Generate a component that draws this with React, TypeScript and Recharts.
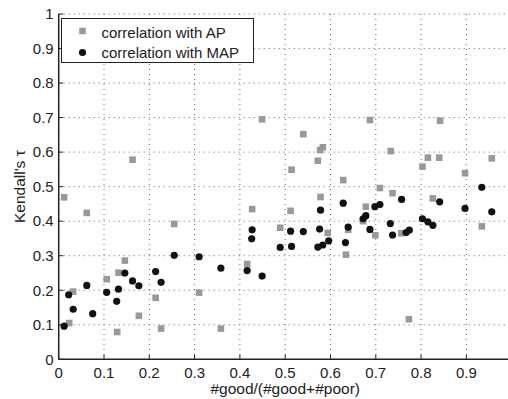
import { ScatterChart, Scatter, XAxis, YAxis, CartesianGrid } from "recharts";

// values
const AP_X = [
  0.012, 0.023, 0.032, 0.062, 0.106, 0.129, 0.132, 0.146, 0.163, 0.177, 0.214, 0.226,
  0.255, 0.31, 0.358, 0.416, 0.427, 0.449, 0.489, 0.512, 0.514, 0.54, 0.572, 0.577,
  0.578, 0.583, 0.594, 0.628, 0.634, 0.639, 0.672, 0.678, 0.687, 0.699, 0.709, 0.733,
  0.737, 0.756, 0.773, 0.803, 0.815, 0.826, 0.84, 0.842, 0.897, 0.934, 0.956,
];
const AP_Y = [
  0.469, 0.105, 0.196, 0.424, 0.232, 0.079, 0.251, 0.286, 0.578, 0.126, 0.178, 0.089,
  0.392, 0.193, 0.089, 0.276, 0.435, 0.695, 0.381, 0.43, 0.549, 0.652, 0.575, 0.606,
  0.47, 0.614, 0.366, 0.519, 0.303, 0.375, 0.4, 0.442, 0.693, 0.359, 0.496, 0.603,
  0.481, 0.365, 0.116, 0.558, 0.584, 0.466, 0.584, 0.691, 0.539, 0.385, 0.582,
];
const MAP_X = [
  0.012, 0.022, 0.032, 0.062, 0.075, 0.106, 0.128, 0.132, 0.146, 0.163, 0.177, 0.214,
  0.226, 0.255, 0.31, 0.358, 0.416, 0.426, 0.427, 0.449, 0.489, 0.512, 0.514, 0.54,
  0.572, 0.576, 0.578, 0.583, 0.596, 0.628, 0.633, 0.639, 0.672, 0.678, 0.687, 0.698,
  0.709, 0.732, 0.737, 0.757, 0.767, 0.774, 0.803, 0.815, 0.826, 0.841, 0.897, 0.934, 0.956,
];
const MAP_Y = [
  0.096, 0.187, 0.145, 0.214, 0.132, 0.194, 0.168, 0.203, 0.25, 0.227, 0.213, 0.254,
  0.223, 0.301, 0.297, 0.264, 0.257, 0.349, 0.375, 0.241, 0.324, 0.371, 0.327, 0.37,
  0.325, 0.377, 0.432, 0.331, 0.343, 0.452, 0.338, 0.383, 0.407, 0.416, 0.376, 0.442,
  0.448, 0.393, 0.36, 0.463, 0.367, 0.374, 0.407, 0.398, 0.388, 0.456, 0.437, 0.498, 0.427,
];
const X_TICKS = [0, 0.1, 0.2, 0.3, 0.4, 0.5, 0.6, 0.7, 0.8, 0.9];
const Y_TICKS = [0, 0.1, 0.2, 0.3, 0.4, 0.5, 0.6, 0.7, 0.8, 0.9, 1];
const SERIES_NAMES = ["correlation with AP", "correlation with MAP"];
const X_TITLE = "#good/(#good+#poor)";
const Y_TITLE = "Kendall's \u03c4";

const apData = AP_X.map((x, i) => ({ x, y: AP_Y[i] }));
const mapData = MAP_X.map((x, i) => ({ x, y: MAP_Y[i] }));

const FONT = '"Liberation Sans", Arial, Helvetica, sans-serif';
const TXT = "#222";
const GRAY = "#999";
const DARK = "#111";

const fmt = (v: number) => String(Math.round(v * 10) / 10);

function BottomTick(props: any) {
  const { x, y, payload } = props;
  return (
    <g>
      <line x1={x} x2={x} y1={y} y2={y - 4.5} stroke={TXT} strokeWidth={1} />
      <text x={x} y={y + 19} textAnchor="middle" fontSize={15} fill={TXT} fontFamily={FONT}>
        {fmt(payload.value)}
      </text>
    </g>
  );
}

function TopTick(props: any) {
  const { x, y } = props;
  return <line x1={x} x2={x} y1={y} y2={y + 4.5} stroke={TXT} strokeWidth={1} />;
}

function LeftTick(props: any) {
  const { x, y, payload } = props;
  return (
    <g>
      <line x1={x} x2={x + 4.5} y1={y} y2={y} stroke={TXT} strokeWidth={1} />
      <text x={x - 5} y={y + 5.3} textAnchor="end" fontSize={15} fill={TXT} fontFamily={FONT}>
        {fmt(payload.value)}
      </text>
    </g>
  );
}

function XTitle(props: any) {
  const vb = props.viewBox;
  return (
    <text x={vb.x + vb.width / 2} y={vb.y + 35} textAnchor="middle" fontSize={15.5} fill={TXT} fontFamily={FONT}>
      {X_TITLE}
    </text>
  );
}

function YTitle(props: any) {
  const vb = props.viewBox;
  const cy = vb.y + vb.height / 2;
  return (
    <text
      transform={`translate(${vb.x + 24.5},${cy}) rotate(-90)`}
      textAnchor="middle"
      fontSize={15.5}
      fill={TXT}
      fontFamily={FONT}
    >
      {Y_TITLE}
    </text>
  );
}

function Square(props: any) {
  const { cx, cy } = props;
  return <rect x={cx - 3.3} y={cy - 3.3} width={6.6} height={6.6} fill={GRAY} />;
}

function Dot(props: any) {
  const { cx, cy } = props;
  return <circle cx={cx} cy={cy} r={3.6} fill={DARK} />;
}

export default function App() {
  return (
    <div
      style={{
        position: "fixed",
        left: 0,
        top: 0,
        width: 508,
        height: 399,
        overflow: "hidden",
        background: "#fff",
        fontFamily: FONT,
      }}
    >
      <ScatterChart width={530} height={399} margin={{ top: 14, right: 18.3, bottom: 0, left: 0 }}>
        <CartesianGrid strokeDasharray="1 4" stroke="#666" />
        <XAxis
          type="number"
          dataKey="x"
          domain={[0, 1]}
          ticks={X_TICKS}
          height={39.7}
          tickSize={0}
          tickMargin={0}
          tickLine={false}
          tick={BottomTick}
          axisLine={{ stroke: TXT, strokeWidth: 1.5 }}
          label={{ content: XTitle }}
        />
        <XAxis
          xAxisId="top"
          orientation="top"
          type="number"
          domain={[0, 1]}
          ticks={X_TICKS}
          height={0}
          tickSize={0}
          tickMargin={0}
          tickLine={false}
          tick={TopTick}
          axisLine={{ stroke: TXT, strokeWidth: 1.5 }}
        />
        <YAxis
          type="number"
          dataKey="y"
          domain={[0, 1]}
          ticks={Y_TICKS}
          width={58.7}
          tickSize={0}
          tickMargin={0}
          tickLine={false}
          tick={LeftTick}
          axisLine={{ stroke: TXT, strokeWidth: 1.5 }}
          label={{ content: YTitle }}
        />
        <Scatter name={SERIES_NAMES[0]} data={apData} shape={Square} isAnimationActive={false} />
        <Scatter name={SERIES_NAMES[1]} data={mapData} shape={Dot} isAnimationActive={false} />
      </ScatterChart>

      {/* legend box, top-left inside the axes */}
      <svg width={194} height={46} style={{ position: "absolute", left: 60.5, top: 18 }}>
        <rect x={0.5} y={0.5} width={192} height={44} fill="#fff" stroke={TXT} strokeWidth={1} />
        <rect x={18.2} y={9.7} width={6.6} height={6.6} fill={GRAY} />
        <text x={40.5} y={19.5} fontSize={15} fill={TXT} fontFamily={FONT}>
          {SERIES_NAMES[0]}
        </text>
        <circle cx={21.5} cy={34.5} r={3.6} fill={DARK} />
        <text x={40.5} y={40} fontSize={15} fill={TXT} fontFamily={FONT}>
          {SERIES_NAMES[1]}
        </text>
      </svg>
    </div>
  );
}
